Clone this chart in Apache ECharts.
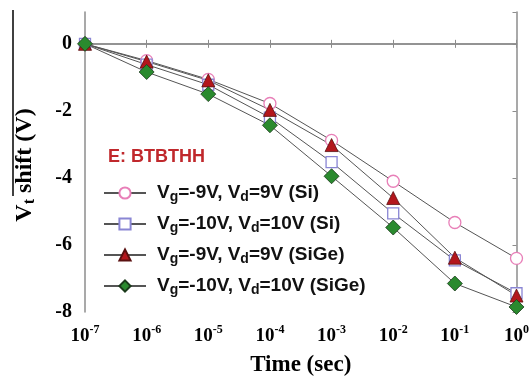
<!DOCTYPE html>
<html>
<head>
<meta charset="utf-8">
<script src="https://cdn.jsdelivr.net/npm/echarts@6/dist/echarts.min.js"></script>
<style>html,body{margin:0;padding:0;background:#fff;}#c{width:532px;height:382px;}</style>
</head>
<body>
<div id="c"></div>
<script>
var times = [1e-7, 1e-6, 1e-5, 1e-4, 1e-3, 1e-2, 1e-1, 1];
var siVg9 = [0, -0.50, -1.06, -1.78, -2.88, -4.10, -5.33, -6.40];
var siVg10 = [0, -0.62, -1.22, -2.20, -3.53, -5.06, -6.46, -7.44];
var sigeVg9 = [0, -0.53, -1.09, -1.97, -3.02, -4.60, -6.38, -7.51];
var sigeVg10 = [0, -0.84, -1.50, -2.43, -3.95, -5.48, -7.15, -7.85];
var yTicks = [-8, -6, -4, -2, 0];
var legendNames = ['Vg9Si', 'Vg10Si', 'Vg9SiGe', 'Vg10SiGe'];
var legendTexts = {
  'Vg9Si': '{n|V}{s|g}{n|=-9V, V}{s|d}{n|=9V (Si)}',
  'Vg10Si': '{n|V}{s|g}{n|=-10V, V}{s|d}{n|=10V (Si)}',
  'Vg9SiGe': '{n|V}{s|g}{n|=-9V, V}{s|d}{n|=9V (SiGe)}',
  'Vg10SiGe': '{n|V}{s|g}{n|=-10V, V}{s|d}{n|=10V (SiGe)}'
};

function pairs(vals) { return times.map(function (t, i) { return [t, vals[i]]; }); }

var chart = echarts.init(document.getElementById('c'), null, {renderer: 'canvas'});
var axisColor = '#8c8c8c';
var serif = '"Liberation Serif", "Times New Roman", serif';
var sans = '"Liberation Sans", Arial, sans-serif';
var lineColor = '#555555';

function xLabel(v) {
  var e = Math.round(Math.log10(v));
  return '{b|10}{e|' + e + '}';
}

chart.setOption({
  animation: false,
  backgroundColor: '#ffffff',
  grid: {left: 85, right: 12, top: 12, bottom: 66},
  xAxis: [{
    type: 'log', logBase: 10, min: 1e-7, max: 1, position: 'bottom',
    axisLine: {show: true, lineStyle: {color: axisColor, width: 1.5}},
    axisTick: {show: true, inside: true, length: 4, lineStyle: {color: axisColor}},
    splitLine: {show: false}, minorTick: {show: false},
    axisLabel: {
      margin: 12, formatter: xLabel, color: '#000',
      rich: {
        b: {fontFamily: serif, fontWeight: 'bold', fontSize: 19, color: '#000', lineHeight: 22, verticalAlign: 'bottom'},
        e: {fontFamily: serif, fontWeight: 'bold', fontSize: 12, color: '#000', lineHeight: 22, verticalAlign: 'top'}
      }
    },
    name: 'Time (sec)', nameLocation: 'middle', nameGap: 42,
    nameTextStyle: {fontFamily: serif, fontWeight: 'bold', fontSize: 23, color: '#000'}
  }, {
    type: 'log', logBase: 10, min: 1e-7, max: 1, position: 'top',
    axisLine: {show: true, lineStyle: {color: axisColor, width: 1.5}},
    axisTick: {show: true, inside: true, length: 4, lineStyle: {color: axisColor}},
    axisLabel: {show: false}, splitLine: {show: false}
  }],
  yAxis: [{
    type: 'value', min: -8, max: 0.95, interval: 2, position: 'left',
    axisLine: {show: true, lineStyle: {color: axisColor, width: 1.5}},
    axisTick: {show: false},
    splitLine: {show: false},
    axisLabel: {
      margin: 13, color: '#000', fontFamily: serif, fontWeight: 'bold', fontSize: 20,
      showMaxLabel: false,
      formatter: function (v) { return yTicks.indexOf(v) >= 0 ? String(v) : ''; }
    }
  }, {
    type: 'value', min: -8, max: 0.95, interval: 2, position: 'right',
    axisLine: {show: true, lineStyle: {color: axisColor, width: 1.5}},
    axisTick: {show: true, inside: true, length: 4, lineStyle: {color: axisColor}},
    axisLabel: {show: false}, splitLine: {show: false}
  }],
  legend: {
    orient: 'vertical', left: 103, top: 181, padding: 0, itemWidth: 42, itemHeight: 14, itemGap: 8,
    data: legendNames,
    formatter: function (n) { return legendTexts[n]; },
    textStyle: {
      color: '#000', padding: [0, 0, 0, 6],
      rich: {
        n: {fontFamily: sans, fontWeight: 'bold', fontSize: 19, color: '#111', lineHeight: 22},
        s: {fontFamily: sans, fontWeight: 'bold', fontSize: 14, color: '#111', lineHeight: 22, verticalAlign: 'bottom', padding: [9, 0, 0, 0]}
      }
    }
  },
  graphic: [
    {type: 'line', shape: {x1: 13, y1: 10, x2: 13, y2: 196}, style: {stroke: '#000', lineWidth: 1.5}},
    {type: 'text', x: 108, y: 157, style: {text: 'E: BTBTHH', fill: '#c0282c', font: 'bold 18px ' + sans, textVerticalAlign: 'middle'}},
    {type: 'text', x: 25, y: 165, rotation: Math.PI / 2,
      style: {
        text: '{v|V}{t|t}{v| shift (V)}', textAlign: 'center', textVerticalAlign: 'middle',
        rich: {
          v: {font: 'bold 24px ' + serif, fill: '#000', lineHeight: 26},
          t: {font: 'bold 16px ' + serif, fill: '#000', lineHeight: 26, verticalAlign: 'bottom', padding: [9, 0, 0, 0]}
        }
      }}
  ],
  series: [{
    name: 'Vg9Si', type: 'line', data: pairs(siVg9), symbol: 'circle', symbolSize: 12,
    lineStyle: {color: lineColor, width: 1},
    itemStyle: {color: '#ffffff', borderColor: '#e87fb8', borderWidth: 1.3}
  }, {
    name: 'Vg10Si', type: 'line', data: pairs(siVg10), symbol: 'rect', symbolSize: 11,
    lineStyle: {color: lineColor, width: 1},
    itemStyle: {color: '#ffffff', borderColor: '#8a86d4', borderWidth: 1.3}
  }, {
    name: 'Vg9SiGe', type: 'line', data: pairs(sigeVg9), symbol: 'triangle', symbolSize: 13,
    lineStyle: {color: lineColor, width: 1},
    itemStyle: {color: '#b3161c', borderColor: '#5a1010', borderWidth: 0.8}
  }, {
    name: 'Vg10SiGe', type: 'line', data: pairs(sigeVg10), symbol: 'diamond', symbolSize: 15,
    lineStyle: {color: lineColor, width: 1},
    itemStyle: {color: '#2a8a2e', borderColor: '#1a3a1a', borderWidth: 0.8}
  }]
});
</script>
</body>
</html>
